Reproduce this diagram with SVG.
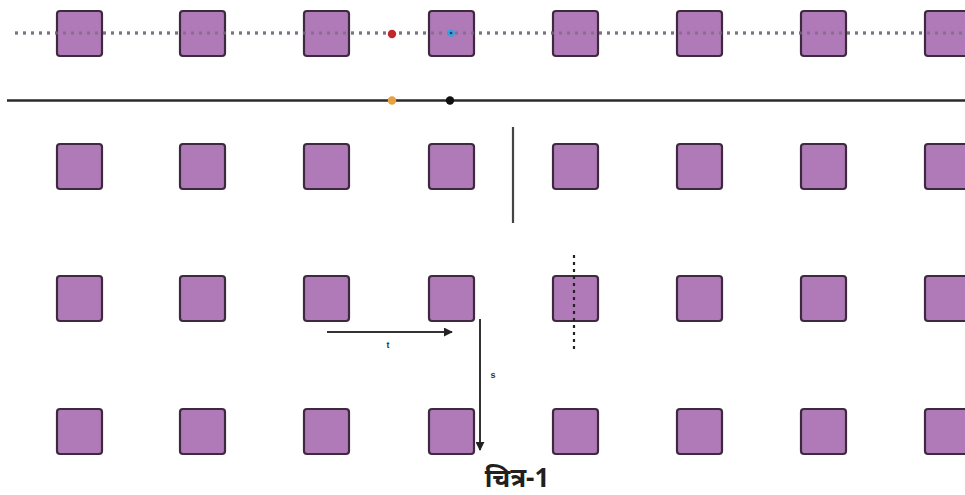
<svg xmlns="http://www.w3.org/2000/svg" width="965" height="495" viewBox="0 0 965 495">
<style>
.sq{fill:#b07ab8;stroke:#3d2a3e;stroke-width:2.2}
.lbl{font-family:"Liberation Sans",Arial,sans-serif;font-size:9px;font-weight:bold;fill:#333}
.cap{font-family:"Noto Sans","Noto Sans Devanagari","Liberation Sans",sans-serif;font-size:26px;font-weight:bold;fill:#231f20}
.dots{stroke-width:3;stroke-dasharray:3 5}
</style>
<defs>
<marker id="ah" viewBox="0 0 10 10" refX="9" refY="5" markerWidth="4.5" markerHeight="4.5" orient="auto" markerUnits="strokeWidth">
<path d="M0,0 L10,5 L0,10 z" fill="#222"/>
</marker>
<rect id="s" width="45" height="45" rx="3" class="sq"/>
</defs>
<rect width="965" height="495" fill="#fff"/>
<g id="lines">
<line class="dots" x1="15" y1="33" x2="965" y2="33" stroke="#8a8a8a"/>
</g>
<g id="row1">
<use href="#s" x="57" y="11"/><use href="#s" x="180" y="11"/><use href="#s" x="304" y="11"/><use href="#s" x="429" y="11"/>
<use href="#s" x="553" y="11"/><use href="#s" x="677" y="11"/><use href="#s" x="801" y="11"/><use href="#s" x="925" y="11"/>
</g>
<g id="row1-overlay">
<line class="dots" x1="15" y1="33" x2="965" y2="33" stroke="#7a6a80" opacity="0.75"/>
</g>
<g id="row2">
<use href="#s" x="57" y="144"/><use href="#s" x="180" y="144"/><use href="#s" x="304" y="144"/><use href="#s" x="429" y="144"/>
<use href="#s" x="553" y="144"/><use href="#s" x="677" y="144"/><use href="#s" x="801" y="144"/><use href="#s" x="925" y="144"/>
</g>
<g id="row3">
<use href="#s" x="57" y="276"/><use href="#s" x="180" y="276"/><use href="#s" x="304" y="276"/><use href="#s" x="429" y="276"/>
<use href="#s" x="553" y="276"/><use href="#s" x="677" y="276"/><use href="#s" x="801" y="276"/><use href="#s" x="925" y="276"/>
</g>
<g id="row4">
<use href="#s" x="57" y="409"/><use href="#s" x="180" y="409"/><use href="#s" x="304" y="409"/><use href="#s" x="429" y="409"/>
<use href="#s" x="553" y="409"/><use href="#s" x="677" y="409"/><use href="#s" x="801" y="409"/><use href="#s" x="925" y="409"/>
</g>
<g id="connectors">
<line x1="7" y1="100.5" x2="965" y2="100.5" stroke="#2a2a2a" stroke-width="2.4"/>
<line x1="513" y1="127" x2="513" y2="223" stroke="#444" stroke-width="2.2"/>
<line x1="574" y1="255" x2="574" y2="353" stroke="#222" stroke-width="2.2" stroke-dasharray="3 4"/>
<line x1="327" y1="332" x2="452" y2="332" stroke="#333" stroke-width="2" marker-end="url(#ah)"/>
<line x1="480" y1="319" x2="480" y2="450" stroke="#333" stroke-width="2" marker-end="url(#ah)"/>
</g>
<g id="points">
<circle cx="392" cy="34" r="4.2" fill="#c0282c"/>
<circle cx="451" cy="33" r="3.8" fill="#3aa0dc"/>
<circle cx="451" cy="33" r="1.3" fill="#1a3a6a"/>
<circle cx="392" cy="100.5" r="4.2" fill="#e8a040"/>
<circle cx="450" cy="100.5" r="4.2" fill="#111"/>
</g>
<g id="labels">
<text class="lbl" x="388" y="348" text-anchor="middle">t</text>
<text class="lbl" x="493" y="378" text-anchor="middle">s</text>
<text class="cap" x="517" y="487" text-anchor="middle">चित्र-1</text>
</g>
</svg>
